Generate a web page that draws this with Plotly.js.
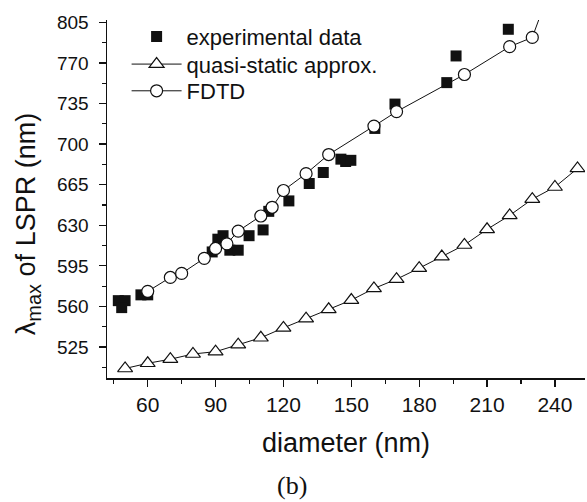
<!DOCTYPE html>
<html>
<head>
<meta charset="utf-8">
<script src="https://cdn.plot.ly/plotly-3.0.1.min.js"></script>
<style>html,body{margin:0;padding:0;background:#fff;}#chart{width:587px;height:502px;}</style>
</head>
<body>
<div id="chart"></div>
<script>
// Experimental data
var expX = [47, 50, 48.5, 57, 60, 88.5, 91, 93.3, 96.3, 100, 104.8, 111, 113.5, 122.4, 131.4, 137.6, 145.4, 147.5, 149.8, 160.4, 169.3, 192.2, 196.3, 219.4];
var expY = [565, 565, 559, 570, 570, 607, 618, 621, 608.5, 608.5, 621, 626, 642, 651, 666, 675.5, 687, 685, 686, 713.5, 734.5, 753, 776, 799];
// Quasi-static approximation
var quasiX = [50, 60, 70, 80, 90, 100, 110, 120, 130, 140, 150, 160, 170, 180, 190, 200, 210, 220, 230, 240, 250];
var quasiY = [506.5, 511, 514.5, 519, 521, 527, 533, 541.5, 549.5, 557.5, 565.5, 575.5, 583.5, 593, 603, 613, 626.5, 638.5, 652.5, 663, 679];
// FDTD
var fdtdX = [60, 70, 75, 85, 90, 95, 100, 110, 115, 120, 130, 140, 160, 170, 200, 220, 230, 240];
var fdtdY = [573, 585, 588.5, 601.5, 610, 614, 625, 638, 645.5, 660, 674.5, 691, 715.5, 728, 760, 784, 792, 845];

var xTicks = [60, 90, 120, 150, 180, 210, 240];
var yTicks = [525, 560, 595, 630, 665, 700, 735, 770, 805];

var FONT = 'Arial, "Liberation Sans", sans-serif';
var SERIF = '"Liberation Serif", "Times New Roman", serif';

var traces = [
  {x: expX, y: expY, name: 'experimental data', mode: 'markers', type: 'scatter', legend: 'legend',
   marker: {symbol: 'square', size: 11, color: '#111'}},
  {x: quasiX, y: quasiY, name: 'quasi-static approx.', mode: 'lines+markers', type: 'scatter', legend: 'legend2',
   line: {color: '#111', width: 1},
   marker: {symbol: 'triangle-up', size: 13, color: '#fff', line: {color: '#111', width: 1.2}}},
  {x: fdtdX, y: fdtdY, name: 'FDTD', mode: 'lines+markers', type: 'scatter', legend: 'legend3',
   line: {color: '#111', width: 1},
   marker: {symbol: 'circle', size: 12, color: '#fff', line: {color: '#111', width: 1.2}}}
];

function leg(y) {
  return {x: 0.041, y: y, xanchor: 'left', yanchor: 'middle', bgcolor: 'rgba(0,0,0,0)',
          font: {size: 22, family: FONT, color: '#111'}, itemwidth: 50};
}

var layout = {
  width: 587, height: 502,
  margin: {l: 107, r: 2, t: 20, b: 124},
  paper_bgcolor: '#fff', plot_bgcolor: '#fff',
  font: {family: FONT, color: '#111'},
  showlegend: true,
  legend: leg(0.9534),
  legend2: leg(0.8763),
  legend3: leg(0.8017),
  xaxis: {
    range: [42, 253.3], tickvals: xTicks, ticktext: xTicks.map(String),
    ticks: 'outside', ticklen: 7, tickwidth: 1.2, tickcolor: '#111',
    showline: true, linecolor: '#111', linewidth: 1.5, showgrid: false, zeroline: false,
    tickfont: {size: 21, family: FONT, color: '#111'},
    minor: {dtick: 15, tick0: 45, ticks: 'outside', ticklen: 4, tickwidth: 1.2, tickcolor: '#111', showgrid: false},
    title: {text: 'diameter (nm)', font: {size: 27, family: FONT, color: '#111'}, standoff: 18}
  },
  yaxis: {
    range: [498.3, 807], tickvals: yTicks, ticktext: yTicks.map(String),
    ticks: 'outside', ticklen: 7, tickwidth: 1.2, tickcolor: '#111',
    showline: true, linecolor: '#111', linewidth: 1.5, showgrid: false, zeroline: false,
    tickfont: {size: 19, family: FONT, color: '#111'}, ticklabelstandoff: 6,
    minor: {dtick: 17.5, tick0: 507.5, ticks: 'outside', ticklen: 4, tickwidth: 1.2, tickcolor: '#111', showgrid: false}
  },
  annotations: [
    {text: 'λ<sub><span style="font-size:20px">max</span></sub> of LSPR (nm)', xref: 'paper', yref: 'paper', x: -0.165, y: 0.43,
     xanchor: 'center', yanchor: 'middle', textangle: -90, showarrow: false,
     font: {size: 27, family: FONT, color: '#111'}},
    {text: '(b)', xref: 'paper', yref: 'paper', x: 0.387, y: -0.299, xanchor: 'center', yanchor: 'middle',
     showarrow: false, font: {size: 26, family: SERIF, color: '#111'}}
  ]
};

Plotly.newPlot('chart', traces, layout, {displayModeBar: false, staticPlot: true});
</script>
</body>
</html>
